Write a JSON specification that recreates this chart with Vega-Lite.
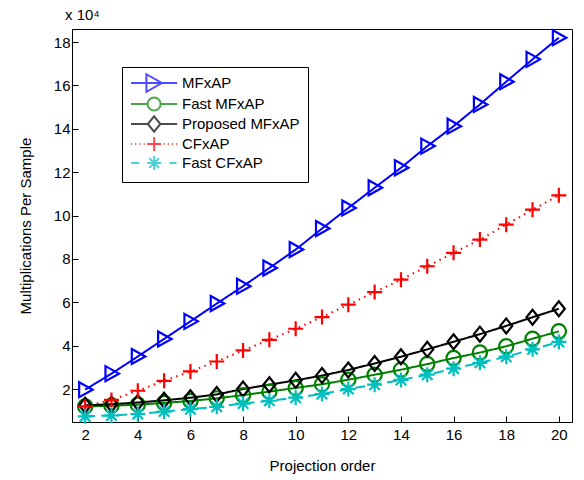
{
  "$schema": "https://vega.github.io/schema/vega-lite/v6.json",
  "autosize": "none",
  "width": 500,
  "height": 393,
  "padding": {"left": 72, "top": 29, "right": 12, "bottom": 58},
  "background": "white",
  "title": {
    "text": "x 10⁴",
    "anchor": "start",
    "frame": "group",
    "dx": -7,
    "offset": 3,
    "fontSize": 15,
    "fontWeight": "normal",
    "font": "Liberation Sans",
    "color": "black"
  },
  "config": {
    "view": {"stroke": "black", "strokeWidth": 1},
    "axis": {
      "labelFont": "Liberation Sans",
      "labelFontSize": 15,
      "labelColor": "black",
      "titleFont": "Liberation Sans",
      "titleFontSize": 15,
      "titleFontWeight": "normal",
      "titleColor": "black",
      "grid": false,
      "domainColor": "black",
      "tickColor": "black",
      "tickSize": -6,
      "labelPadding": 8
    },
    "legend": {
      "labelFont": "Liberation Sans",
      "labelFontSize": 15,
      "labelColor": "black",
      "symbolSize": 196,
      "symbolStrokeWidth": 2,
      "rowPadding": -3
    }
  },
  "datasets": {
    "mults": [
      {"order": 2, "method": "MFxAP", "mults": 19700},
      {"order": 3, "method": "MFxAP", "mults": 27100},
      {"order": 4, "method": "MFxAP", "mults": 35000},
      {"order": 5, "method": "MFxAP", "mults": 43100},
      {"order": 6, "method": "MFxAP", "mults": 51200},
      {"order": 7, "method": "MFxAP", "mults": 59400},
      {"order": 8, "method": "MFxAP", "mults": 67400},
      {"order": 9, "method": "MFxAP", "mults": 75800},
      {"order": 10, "method": "MFxAP", "mults": 84300},
      {"order": 11, "method": "MFxAP", "mults": 94000},
      {"order": 12, "method": "MFxAP", "mults": 103500},
      {"order": 13, "method": "MFxAP", "mults": 112800},
      {"order": 14, "method": "MFxAP", "mults": 122000},
      {"order": 15, "method": "MFxAP", "mults": 132000},
      {"order": 16, "method": "MFxAP", "mults": 141200},
      {"order": 17, "method": "MFxAP", "mults": 151200},
      {"order": 18, "method": "MFxAP", "mults": 161700},
      {"order": 19, "method": "MFxAP", "mults": 172000},
      {"order": 20, "method": "MFxAP", "mults": 182000},
      {"order": 2, "method": "Fast MFxAP", "mults": 12000},
      {"order": 3, "method": "Fast MFxAP", "mults": 12300},
      {"order": 4, "method": "Fast MFxAP", "mults": 12800},
      {"order": 5, "method": "Fast MFxAP", "mults": 13600},
      {"order": 6, "method": "Fast MFxAP", "mults": 14500},
      {"order": 7, "method": "Fast MFxAP", "mults": 15700},
      {"order": 8, "method": "Fast MFxAP", "mults": 17200},
      {"order": 9, "method": "Fast MFxAP", "mults": 18800},
      {"order": 10, "method": "Fast MFxAP", "mults": 20500},
      {"order": 11, "method": "Fast MFxAP", "mults": 22200},
      {"order": 12, "method": "Fast MFxAP", "mults": 24300},
      {"order": 13, "method": "Fast MFxAP", "mults": 26600},
      {"order": 14, "method": "Fast MFxAP", "mults": 28900},
      {"order": 15, "method": "Fast MFxAP", "mults": 31500},
      {"order": 16, "method": "Fast MFxAP", "mults": 34300},
      {"order": 17, "method": "Fast MFxAP", "mults": 36800},
      {"order": 18, "method": "Fast MFxAP", "mults": 39700},
      {"order": 19, "method": "Fast MFxAP", "mults": 43200},
      {"order": 20, "method": "Fast MFxAP", "mults": 46600},
      {"order": 2, "method": "Proposed MFxAP", "mults": 12500},
      {"order": 3, "method": "Proposed MFxAP", "mults": 13000},
      {"order": 4, "method": "Proposed MFxAP", "mults": 13800},
      {"order": 5, "method": "Proposed MFxAP", "mults": 14800},
      {"order": 6, "method": "Proposed MFxAP", "mults": 16000},
      {"order": 7, "method": "Proposed MFxAP", "mults": 17500},
      {"order": 8, "method": "Proposed MFxAP", "mults": 20000},
      {"order": 9, "method": "Proposed MFxAP", "mults": 22000},
      {"order": 10, "method": "Proposed MFxAP", "mults": 24000},
      {"order": 11, "method": "Proposed MFxAP", "mults": 26200},
      {"order": 12, "method": "Proposed MFxAP", "mults": 28800},
      {"order": 13, "method": "Proposed MFxAP", "mults": 31800},
      {"order": 14, "method": "Proposed MFxAP", "mults": 34900},
      {"order": 15, "method": "Proposed MFxAP", "mults": 38300},
      {"order": 16, "method": "Proposed MFxAP", "mults": 41800},
      {"order": 17, "method": "Proposed MFxAP", "mults": 45300},
      {"order": 18, "method": "Proposed MFxAP", "mults": 49100},
      {"order": 19, "method": "Proposed MFxAP", "mults": 53100},
      {"order": 20, "method": "Proposed MFxAP", "mults": 57000},
      {"order": 2, "method": "CFxAP", "mults": 12000},
      {"order": 3, "method": "CFxAP", "mults": 15000},
      {"order": 4, "method": "CFxAP", "mults": 19200},
      {"order": 5, "method": "CFxAP", "mults": 23800},
      {"order": 6, "method": "CFxAP", "mults": 28100},
      {"order": 7, "method": "CFxAP", "mults": 32700},
      {"order": 8, "method": "CFxAP", "mults": 37800},
      {"order": 9, "method": "CFxAP", "mults": 42700},
      {"order": 10, "method": "CFxAP", "mults": 47800},
      {"order": 11, "method": "CFxAP", "mults": 53200},
      {"order": 12, "method": "CFxAP", "mults": 58900},
      {"order": 13, "method": "CFxAP", "mults": 64700},
      {"order": 14, "method": "CFxAP", "mults": 70400},
      {"order": 15, "method": "CFxAP", "mults": 76600},
      {"order": 16, "method": "CFxAP", "mults": 82800},
      {"order": 17, "method": "CFxAP", "mults": 88900},
      {"order": 18, "method": "CFxAP", "mults": 95800},
      {"order": 19, "method": "CFxAP", "mults": 102700},
      {"order": 20, "method": "CFxAP", "mults": 109300},
      {"order": 2, "method": "Fast CFxAP", "mults": 7400},
      {"order": 3, "method": "Fast CFxAP", "mults": 7800},
      {"order": 4, "method": "Fast CFxAP", "mults": 8500},
      {"order": 5, "method": "Fast CFxAP", "mults": 9600},
      {"order": 6, "method": "Fast CFxAP", "mults": 10700},
      {"order": 7, "method": "Fast CFxAP", "mults": 11800},
      {"order": 8, "method": "Fast CFxAP", "mults": 13300},
      {"order": 9, "method": "Fast CFxAP", "mults": 14600},
      {"order": 10, "method": "Fast CFxAP", "mults": 16000},
      {"order": 11, "method": "Fast CFxAP", "mults": 17700},
      {"order": 12, "method": "Fast CFxAP", "mults": 20000},
      {"order": 13, "method": "Fast CFxAP", "mults": 22000},
      {"order": 14, "method": "Fast CFxAP", "mults": 24200},
      {"order": 15, "method": "Fast CFxAP", "mults": 26600},
      {"order": 16, "method": "Fast CFxAP", "mults": 29400},
      {"order": 17, "method": "Fast CFxAP", "mults": 32100},
      {"order": 18, "method": "Fast CFxAP", "mults": 34900},
      {"order": 19, "method": "Fast CFxAP", "mults": 38300},
      {"order": 20, "method": "Fast CFxAP", "mults": 41700}
    ],
    "legendEntries": [
      {"method": "MFxAP"},
      {"method": "Fast MFxAP"},
      {"method": "Proposed MFxAP"},
      {"method": "CFxAP"},
      {"method": "Fast CFxAP"}
    ]
  },
  "layer": [
    {
      "data": {"name": "mults"},
      "mark": {"type": "line", "strokeWidth": 2, "clip": true},
      "encoding": {
        "x": {
          "field": "order",
          "type": "quantitative",
          "scale": {"domain": [1.5, 20.5], "nice": false, "zero": false},
          "axis": {"values": [2, 4, 6, 8, 10, 12, 14, 16, 18, 20], "title": "Projection order", "titlePadding": 16, "labelPadding": 11}
        },
        "y": {
          "field": "mults",
          "type": "quantitative",
          "scale": {"domain": [4800, 186000], "nice": false, "zero": false},
          "axis": {
            "values": [20000, 40000, 60000, 80000, 100000, 120000, 140000, 160000, 180000],
            "labelExpr": "datum.value / 10000",
            "title": "Multiplications Per Sample",
            "titlePadding": 20
          }
        },
        "color": {
          "field": "method",
          "type": "nominal",
          "scale": {
            "domain": ["MFxAP", "Fast MFxAP", "Proposed MFxAP", "CFxAP", "Fast CFxAP"],
            "range": ["#0000FF", "#008000", "#000000", "#FF0000", "#00BFBF"]
          },
          "legend": null
        },
        "strokeDash": {
          "field": "method",
          "type": "nominal",
          "scale": {
            "domain": ["MFxAP", "Fast MFxAP", "Proposed MFxAP", "CFxAP", "Fast CFxAP"],
            "range": [[1, 0], [1, 0], [1, 0], [1.5, 4.5], [10, 6]]
          },
          "legend": null
        }
      }
    },
    {
      "layer": [
        {
          "data": {"name": "mults"},
          "mark": {"type": "point", "filled": false, "strokeWidth": 2.2, "opacity": 1},
          "encoding": {
            "x": {
              "field": "order",
              "type": "quantitative",
              "scale": {"domain": [1.5, 20.5], "nice": false, "zero": false},
              "axis": {"orient": "top", "values": [2, 4, 6, 8, 10, 12, 14, 16, 18, 20], "labels": false, "domain": false, "title": null}
            },
            "y": {
              "field": "mults",
              "type": "quantitative",
              "scale": {"domain": [4800, 186000], "nice": false, "zero": false},
              "axis": {"orient": "right", "values": [20000, 40000, 60000, 80000, 100000, 120000, 140000, 160000, 180000], "labels": false, "domain": false, "title": null}
            },
            "color": {
              "field": "method",
              "type": "nominal",
              "scale": {
                "domain": ["MFxAP", "Fast MFxAP", "Proposed MFxAP", "CFxAP", "Fast CFxAP"],
                "range": ["#0000FF", "#008000", "#000000", "#FF0000", "#00BFBF"]
              },
              "legend": null
            },
            "shape": {
              "field": "method",
              "type": "nominal",
              "scale": {
                "domain": ["MFxAP", "Fast MFxAP", "Proposed MFxAP", "CFxAP", "Fast CFxAP"],
                "range": [
                  "M-0.8,-1L1,0L-0.8,1Z",
                  "M0.95,0A0.95,0.95 0 1,1 -0.95,0A0.95,0.95 0 1,1 0.95,0Z",
                  "M-0.8,0L0,-1L0.8,0L0,1Z",
                  "M-1,0L1,0M0,-1L0,1",
                  "M-1,0L1,0M0,-1L0,1M-0.7,-0.7L0.7,0.7M-0.7,0.7L0.7,-0.7"
                ]
              },
              "legend": null
            },
            "size": {"value": 225}
          }
        },
        {
          "data": {"name": "legendEntries"},
          "mark": {"type": "point", "filled": false, "strokeWidth": 2},
          "encoding": {
            "x": {"field": "order", "type": "quantitative", "scale": {"domain": [1.5, 20.5], "nice": false, "zero": false}, "axis": null},
            "y": {"field": "mults", "type": "quantitative", "scale": {"domain": [4800, 186000], "nice": false, "zero": false}, "axis": null},
            "color": {
              "field": "method",
              "type": "nominal",
              "scale": {
                "domain": ["MFxAP", "Fast MFxAP", "Proposed MFxAP", "CFxAP", "Fast CFxAP"],
                "range": ["#0000FF", "#008000", "#000000", "#FF0000", "#00BFBF"]
              },
              "legend": {
                "title": null,
                "orient": "none",
                "legendX": 50,
                "legendY": 38,
                "padding": 8,
                "fillColor": "white",
                "strokeColor": "black",
                "labelOffset": 36
              }
            },
            "shape": {
              "field": "method",
              "type": "nominal",
              "scale": {
                "domain": ["MFxAP", "Fast MFxAP", "Proposed MFxAP", "CFxAP", "Fast CFxAP"],
                "range": [
                  "M-1,0L5.6,0M1.2,-1.25L3.4,0L1.2,1.25Z",
                  "M-1,0L1.37,0M3.23,0L5.6,0M3.23,0A0.93,0.93 0 1,1 1.37,0A0.93,0.93 0 1,1 3.23,0Z",
                  "M-1,0L1.4,0M3.2,0L5.6,0M1.4,0L2.3,-1.1L3.2,0L2.3,1.1Z",
                  "M-1,0L-0.85,0M-0.4,0L-0.25,0M0.2,0L0.35,0M0.8,0L0.95,0M1.3,0L3.3,0M2.3,-1L2.3,1M3.65,0L3.8,0M4.25,0L4.4,0M4.85,0L5,0M5.45,0L5.6,0",
                  "M-1,0L0.2,0M1.3,0L3.3,0M2.3,-1L2.3,1M1.6,-0.7L3,0.7M1.6,0.7L3,-0.7M4.5,0L5.5,0"
                ]
              },
              "legend": {
                "title": null,
                "orient": "none",
                "legendX": 50,
                "legendY": 38,
                "padding": 8,
                "fillColor": "white",
                "strokeColor": "black",
                "labelOffset": 36
              }
            }
          }
        }
      ],
      "resolve": {"scale": {"color": "independent", "shape": "independent"}}
    }
  ],
  "resolve": {
    "axis": {"x": "independent", "y": "independent"},
    "scale": {"color": "independent"}
  }
}
